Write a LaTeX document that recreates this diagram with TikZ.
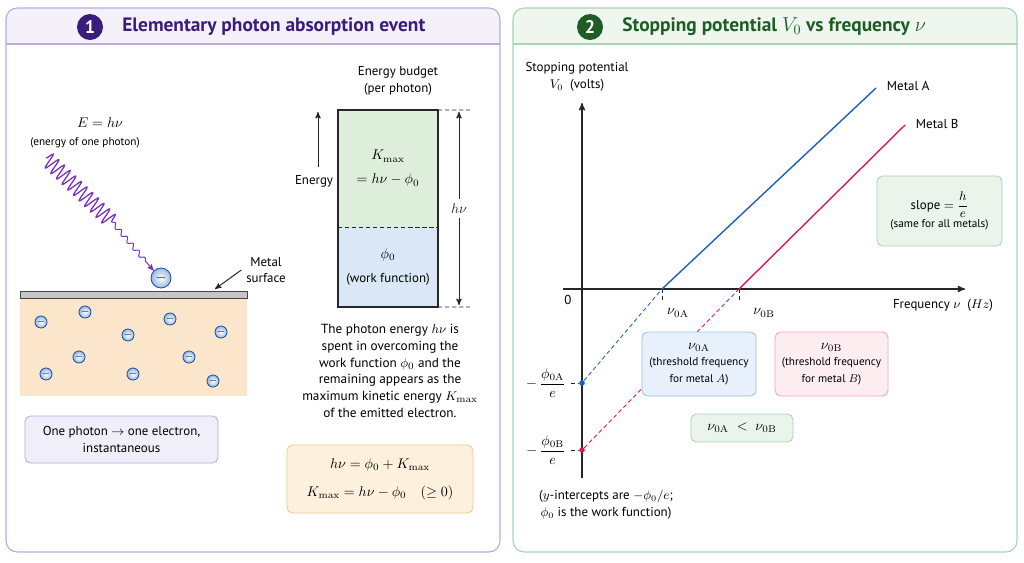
\documentclass[tikz,border=0pt]{standalone}
\usepackage{amsmath}
\usepackage{amssymb}
\usepackage[no-math]{fontspec}
\setmainfont{PT Sans}
\usetikzlibrary{arrows,decorations.pathmorphing,positioning}

\definecolor{violetdark}{HTML}{3A1C7C}
\definecolor{violetline}{HTML}{BBAADF}
\definecolor{violetfill}{HTML}{F4F1FB}
\definecolor{greendark}{HTML}{1E5E24}
\definecolor{greenline}{HTML}{A8D4B0}
\definecolor{greenfill}{HTML}{EEF6EF}
\definecolor{metalA}{HTML}{1F5FC0}
\definecolor{metalB}{HTML}{D81B5E}
\definecolor{photon}{HTML}{7B2FC0}
\definecolor{peach}{HTML}{FBE6CB}
\definecolor{kinfill}{HTML}{DDEFDA}
\definecolor{workfill}{HTML}{D9E7F6}
\definecolor{boxorange}{HTML}{FDF1DE}
\definecolor{lineorange}{HTML}{F0C98E}
\definecolor{boxblue}{HTML}{E7F0FB}
\definecolor{lineblue}{HTML}{9FC2EA}
\definecolor{boxpink}{HTML}{FDEDF1}
\definecolor{linepink}{HTML}{F2A6BC}
\definecolor{boxlav}{HTML}{F0EEF9}
\definecolor{linelav}{HTML}{B7A8E0}
\definecolor{boxgreen}{HTML}{EAF4EA}
\definecolor{ink}{HTML}{262626}

\begin{document}
\begin{tikzpicture}
	[x=0.025cm,y=-0.025cm,>=stealth',
		body/.style={font=\fontsize{9.2}{12}\selectfont},
		small/.style={font=\fontsize{8}{11}\selectfont},
		mathtext/.style={font=\fontsize{10}{13}\selectfont},
		heading/.style={font=\fontsize{13.8}{16}\selectfont\bfseries},
		badge/.style={circle,inner sep=0pt,minimum size=0.65cm,text=white,font=\fontsize{13}{15}\selectfont\bfseries},
		electron/.style={circle,draw=metalA!85!black,line width=0.6pt,inner color=white,outer color=metalA!45,minimum size=0.3cm,inner sep=0pt,font=\fontsize{7}{7}\selectfont},
		infobox/.style={draw,rounded corners=4pt,line width=0.6pt,align=center,inner sep=0pt},
		guide/.style={densely dashed,line width=0.5pt,ink},
		axis/.style={->,line width=0.9pt,ink},
		dot/.style={circle,inner sep=0pt,minimum size=0.14cm}]

	\useasboundingbox (0,0) rectangle (1024,562);
	\fill[white] (0,0) rectangle (1024,562);

	% panel frames
	\begin{scope}
		\clip (6,8) rectangle (500,44);
		\fill[violetfill,rounded corners=8pt] (6,8) rectangle (500,70);
	\end{scope}
	\begin{scope}
		\clip (513,8) rectangle (1017,44);
		\fill[greenfill,rounded corners=8pt] (513,8) rectangle (1017,70);
	\end{scope}
	\draw[violetline,line width=0.8pt,rounded corners=8pt] (6,8) rectangle (500,552);
	\draw[violetline,line width=0.8pt] (6,44) -- (500,44);
	\draw[greenline,line width=0.8pt,rounded corners=8pt] (513,8) rectangle (1017,552);
	\draw[greenline,line width=0.8pt] (513,44) -- (1017,44);

	\node[badge,fill=violetdark] (badge1) at (90,27) {1};
	\node[heading,text=violetdark,right=10pt of badge1] (title1) {Elementary photon absorption event};
	\node[badge,fill=greendark] (badge2) at (590,27) {2};
	\node[heading,text=greendark,right=10pt of badge2] (title2) {Stopping potential $V_0$ vs frequency $\nu$};

	% photon hitting the metal
	\node[mathtext] (energy) at (100,123) {$E = h\nu$};
	\node[small] (energynote) at (85,143) {(energy of one photon)};
	\fill[peach] (20,298) rectangle (247,396);
	\draw[draw=gray!55!black,fill=gray!45,line width=0.6pt] (20,291) rectangle (247,298);
	\node[electron,minimum size=0.5cm,font=\fontsize{10}{10}\selectfont] (eout) at (161,278) {$-$};
	\coordinate (ph0) at (46,158);
	\coordinate (ph1) at (112,222);
	\draw[photon,line width=0.9pt,decorate,decoration={snake,amplitude=5.5pt,segment length=5.6pt}] (ph0) -- (ph1);
	\draw[photon,line width=0.7pt,->,decorate,decoration={snake,amplitude=1.5pt,segment length=6.5pt,post length=6pt}] (ph1) -- (eout.135);

	\foreach \ex/\ey in {41/322,85/312,128/335,170/319,221/332,79/357,189/357,46/374,133/374,213/381}
		\node[electron] at (\ex,\ey) {$-$};

	\node[body,align=center] (msurf) at (266,270) {Metal\\surface};
	\coordinate (mtop) at (215,289);
	\draw[->,ink,line width=0.7pt] (msurf.west) -- (mtop);

	\node[infobox,draw=linelav,fill=boxlav,minimum width=4.825cm,minimum height=1.175cm,body] (rule) at (121.5,439.5) {One photon $\rightarrow$ one electron,\\instantaneous};

	% energy budget bar
	\node[body,align=center] (budget) at (398,81) {Energy budget\\(per photon)};
	\node[fill=kinfill,minimum width=2.5cm,minimum height=2.925cm,inner sep=0pt,outer sep=0pt,align=center,font=\fontsize{10}{17}\selectfont] (kin) at (388,168.5) {$K_{\max}$\\$= h\nu - \phi_0$};
	\node[fill=workfill,minimum width=2.5cm,minimum height=2cm,inner sep=0pt,outer sep=0pt,align=center,font=\fontsize{10}{17}\selectfont] (work) at (388,267) {$\phi_0$\\{\fontsize{9.2}{12}\selectfont(work function)}};
	\draw[ink,line width=0.8pt] (kin.north west) rectangle (work.south east);
	\draw[guide] (kin.south west) -- (kin.south east);
	\coordinate (ktop) at (470,110);
	\coordinate (wbot) at (470,307);
	\draw[guide] (kin.north east) -- (ktop);
	\draw[guide] (work.south east) -- (wbot);
	\coordinate (hvtop) at (459,112);
	\coordinate (hvbot) at (459,305);
	\draw[<->,ink,line width=0.7pt] (hvtop) -- node[fill=white,mathtext,inner sep=3pt] {$h\nu$} (hvbot);
	\node[body] (elab) at (314,181) {Energy};
	\coordinate (etop) at (318,112);
	\draw[->,ink,line width=0.7pt,shorten <=2pt] (elab.north -| etop) -- (etop);

	\node[align=center,font=\fontsize{9.4}{11.9}\selectfont] (story) at (390,371) {The photon energy $h\nu$ is\\spent in overcoming the\\work function $\phi_0$ and the\\remaining appears as the\\maximum kinetic energy $K_{\max}$\\of the emitted electron.};

	\node[infobox,draw=lineorange,fill=boxorange,minimum width=4.65cm,minimum height=1.7cm,font=\fontsize{10}{20}\selectfont] (law) at (380,479) {$h\nu = \phi_0 + K_{\max}$\\$K_{\max} = h\nu - \phi_0 \quad (\geq 0)$};

	% stopping potential graph
	\coordinate (ybot) at (582,478);
	\coordinate (ytop) at (582,103);
	\coordinate (xleft) at (563,289);
	\coordinate (xright) at (965,289);
	\draw[axis] (ybot) -- (ytop);
	\draw[axis] (xleft) -- (xright);
	\node[body,align=center] (ylab) at (577,77) {Stopping potential\\$V_0$\ \ (volts)};
	\node[body] (xlab) at (943,305) {Frequency $\nu$\ \ ($Hz$)};
	\node[body] (zero) at (568,300) {0};

	\coordinate (nuA) at (662,289);
	\coordinate (nuB) at (739,289);
	\coordinate (tickA) at (662,303);
	\coordinate (tickB) at (739,303);
	\coordinate (endA) at (876,88);
	\coordinate (endB) at (905,125);
	\node[dot,fill=metalA] (dotA) at (582,383) {};
	\node[dot,fill=metalB] (dotB) at (582,450) {};
	\draw[guide] (nuA) -- (tickA);
	\draw[guide] (nuB) -- (tickB);
	\draw[metalA,line width=1pt] (nuA) -- (endA);
	\draw[metalB,line width=1pt] (nuB) -- (endB);
	\draw[metalA,densely dashed,line width=0.6pt] (dotA) -- (nuA);
	\draw[metalB,densely dashed,line width=0.6pt] (dotB) -- (nuB);
	\node[mathtext] (labA) at (678,313) {$\nu_{0\mathrm{A}}$};
	\node[mathtext] (labB) at (764,313) {$\nu_{0\mathrm{B}}$};
	\node[body,anchor=west] (metA) at (882,86) {Metal A};
	\node[body,anchor=west] (metB) at (911,124) {Metal B};

	\node[mathtext] (phiA) at (546,383) {$-\,\dfrac{\phi_{0\mathrm{A}}}{e}$};
	\node[mathtext] (phiB) at (546,450) {$-\,\dfrac{\phi_{0\mathrm{B}}}{e}$};
	\draw[guide] (phiA.east) -- (dotA);
	\draw[guide] (phiB.east) -- (dotB);

	\node[body,align=center] (icept) at (606,505) {($y$-intercepts are $-\phi_0/e$;\\$\phi_0$ is the work function)};

	\node[infobox,draw=lineblue,fill=boxblue,minimum width=2.85cm,minimum height=1.6cm,font=\fontsize{8}{11.8}\selectfont] (boxA) at (699,364) {{\fontsize{10}{11.8}\selectfont$\nu_{0\mathrm{A}}$}\\(threshold frequency\\for metal $A$)};
	\node[infobox,draw=linepink,fill=boxpink,minimum width=2.825cm,minimum height=1.6cm,font=\fontsize{8}{11.8}\selectfont] (boxB) at (831.5,364) {{\fontsize{10}{11.8}\selectfont$\nu_{0\mathrm{B}}$}\\(threshold frequency\\for metal $B$)};
	\node[infobox,draw=greenline,fill=boxgreen,minimum width=2.55cm,minimum height=0.7cm,mathtext] (order) at (742,428) {$\nu_{0\mathrm{A}} \;<\; \nu_{0\mathrm{B}}$};
	\node[infobox,draw=greenline,fill=boxgreen,minimum width=3.125cm,minimum height=1.75cm,font=\fontsize{9.2}{12}\selectfont] (slope) at (939.5,211) {slope $= \dfrac{h}{e}$\\[1pt]{\fontsize{8}{11}\selectfont(same for all metals)}};
\end{tikzpicture}
\end{document}
